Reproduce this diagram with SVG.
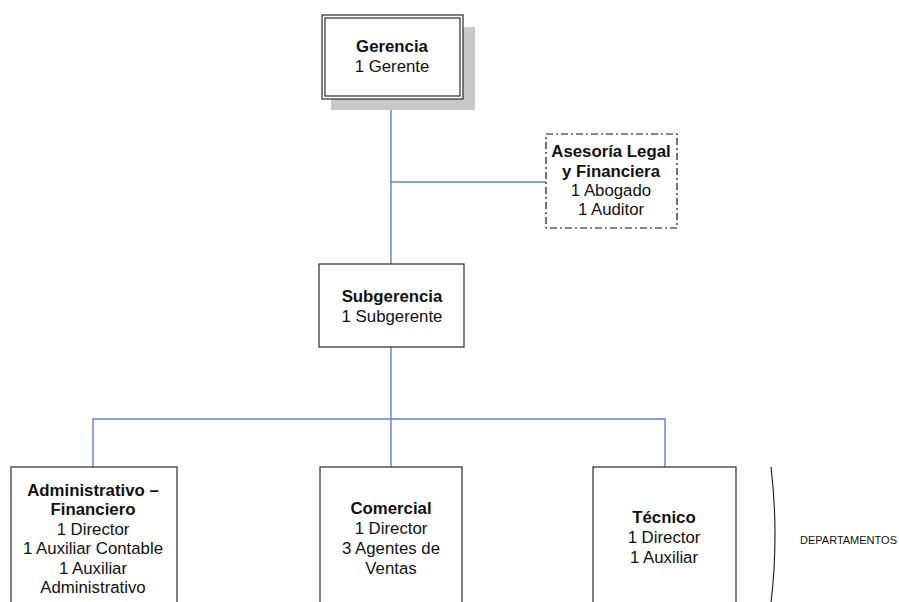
<svg xmlns="http://www.w3.org/2000/svg" width="899" height="602" viewBox="0 0 899 602">
  <style>
    .box { fill: #ffffff; stroke: #2b2b2b; stroke-width: 1.2; }
    .dash { fill: #ffffff; stroke: #111111; stroke-width: 1.2; stroke-dasharray: 7 3 2 3; }
    .shadow { fill: #c8c8c8; stroke: none; }
    .conn { fill: none; stroke: #5b84c8; stroke-width: 1.4; }
    .brace { fill: none; stroke: #1a1a1a; stroke-width: 1.1; }
    text { font-family: "Liberation Sans", Arial, sans-serif; font-size: 16.8px; fill: #111111; text-anchor: middle; }
    .b { font-weight: bold; }
    .small { font-size: 11px; text-anchor: start; }
  </style>

  <rect width="899" height="602" fill="#ffffff"/>

  <!-- connectors -->
  <g id="connectors">
    <path class="conn" d="M391 99 V265"/>
    <path class="conn" d="M391 182 H546"/>
    <path class="conn" d="M391 347 V419"/>
    <path class="conn" d="M93 467 V419 H665 V467"/>
    <path class="conn" d="M391 419 V467"/>
  </g>

  <!-- top management -->
  <g id="gerencia">
    <rect class="shadow" x="331" y="27" width="144" height="83"/>
    <rect class="box" x="322" y="15" width="141" height="84"/>
    <rect class="box" x="325" y="18" width="135" height="78"/>
    <text x="392" y="52" class="b">Gerencia</text>
    <text x="392" y="72">1 Gerente</text>
  </g>

  <!-- advisory staff -->
  <g id="asesoria">
    <rect class="dash" x="546" y="134" width="131" height="94"/>
    <text x="611" y="157" class="b">Asesoría Legal</text>
    <text x="611" y="177" class="b">y Financiera</text>
    <text x="611" y="196">1 Abogado</text>
    <text x="611" y="215">1 Auditor</text>
  </g>

  <!-- deputy management -->
  <g id="subgerencia">
    <rect class="box" x="319" y="264" width="145" height="83"/>
    <text x="392" y="302" class="b">Subgerencia</text>
    <text x="392" y="322">1 Subgerente</text>
  </g>

  <!-- departments -->
  <g id="administrativo">
    <rect class="box" x="11" y="467" width="166" height="150"/>
    <text x="93" y="496" class="b">Administrativo –</text>
    <text x="93" y="515" class="b">Financiero</text>
    <text x="93" y="535">1 Director</text>
    <text x="93" y="554">1 Auxiliar Contable</text>
    <text x="93" y="574">1 Auxiliar</text>
    <text x="93" y="593">Administrativo</text>
  </g>

  <g id="comercial">
    <rect class="box" x="320" y="467" width="142" height="150"/>
    <text x="391" y="514" class="b">Comercial</text>
    <text x="391" y="534">1 Director</text>
    <text x="391" y="554">3 Agentes de</text>
    <text x="391" y="574">Ventas</text>
  </g>

  <g id="tecnico">
    <rect class="box" x="593" y="467" width="143" height="150"/>
    <text x="664" y="523" class="b">Técnico</text>
    <text x="664" y="543">1 Director</text>
    <text x="664" y="563">1 Auxiliar</text>
  </g>

  <!-- department grouping brace -->
  <g id="departamentos">
    <path class="brace" d="M771 467 Q779 535 771 603"/>
    <text x="800" y="544" class="small">DEPARTAMENTOS</text>
  </g>
</svg>
